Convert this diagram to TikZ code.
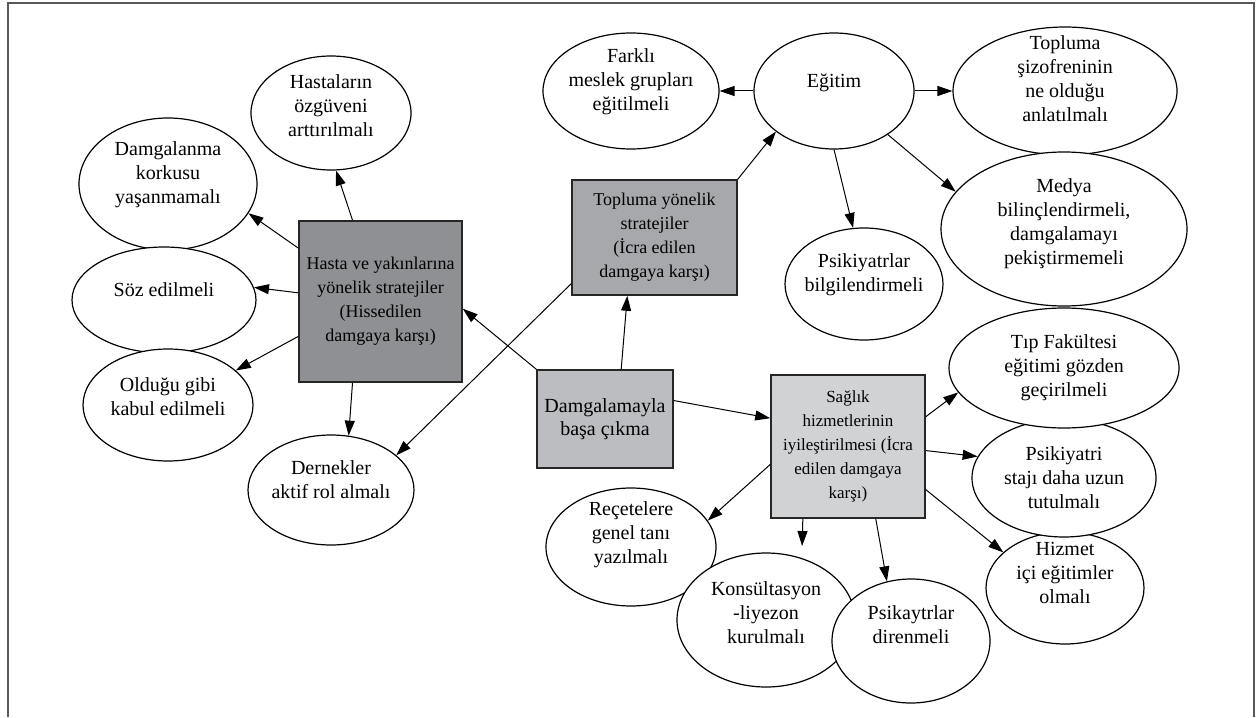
\documentclass[tikz,border=0pt]{standalone}
\usepackage{fontspec}
\setmainfont{Liberation Serif}
\usepackage{tikz}
\usetikzlibrary{shapes.geometric, arrows.meta}

\definecolor{hastagray}{HTML}{8F9094}
\definecolor{toplumgray}{HTML}{A7A8AC}
\definecolor{maingray}{HTML}{BCBDC1}
\definecolor{sagligray}{HTML}{D1D2D4}

\begin{document}
\begin{tikzpicture}[
  x=0.5pt, y=-0.5pt,
  idea/.style={draw, ellipse, fill=white, line width=0.6pt, inner sep=0pt},
  note/.style={font=\fontsize{10}{12}\selectfont, align=center},
  box/.style={draw=black!85, line width=0.8pt, inner sep=0pt, align=center, font=\fontsize{9}{12}\selectfont},
  arr/.style={-{Triangle[length=7.5pt, width=5pt]}, line width=0.5pt},
  frame/.style={draw=black!65, line width=1pt}
]
  \useasboundingbox (0,0) rectangle (1256,717);
  \draw[frame] (8,717) -- (8,3) -- (1254,3) -- (1254,717);

  % Main components
  \node[box, fill=hastagray, minimum width=81.5pt, minimum height=80.5pt] (hasta) at (380.5,301.5)
    {Hasta ve yakınlarına\\yönelik stratejiler\\(Hissedilen\\damgaya karşı)};
  \node[box, fill=toplumgray, minimum width=82.5pt, minimum height=57.5pt] (topluma) at (654.5,237.5)
    {Topluma yönelik\\stratejiler\\(İcra edilen\\damgaya karşı)};
  \node[box, fill=maingray, minimum width=68pt, minimum height=49pt, font=\fontsize{10}{11.5}\selectfont] (damga) at (605,419)
    {Damgalamayla\\başa çıkma};
  \node[box, fill=sagligray, minimum width=77pt, minimum height=71.5pt, font=\fontsize{8.5}{12}\selectfont] (saglik) at (848,446.5)
    {Sağlık\\hizmetlerinin\\iyileştirilmesi (İcra\\edilen damgaya\\karşı)};

  % Patient side
  \node[idea, minimum width=80pt, minimum height=57pt, label={[note, yshift=3.5pt]center:{Hastaların\\özgüveni\\arttırılmalı}}] (hastalarin) at (331,113) {};
  \node[idea, minimum width=89pt, minimum height=66pt, label={[note, yshift=4.5pt]center:{Damgalanma\\korkusu\\yaşanmamalı}}] (damgalanma) at (168,184) {};
  \node[idea, minimum width=92pt, minimum height=53pt, label={[note, yshift=5pt]center:{Söz edilmeli}}] (soz) at (164,300) {};
  \node[idea, minimum width=85pt, minimum height=56pt, label={[note, yshift=4pt]center:{Olduğu gibi\\kabul edilmeli}}] (oldugu) at (168,405) {};
  \node[idea, minimum width=83pt, minimum height=55pt, label={[note, yshift=5pt]center:{Dernekler\\aktif rol almalı}}] (dernekler) at (331,490) {};

  % Education
  \node[idea, minimum width=88pt, minimum height=58pt, label={[note, yshift=4.5pt]center:{Farklı\\meslek grupları\\eğitilmeli}}] (farkli) at (631,91) {};
  \node[idea, minimum width=80pt, minimum height=58pt, label={[note, yshift=4pt]center:{Eğitim}}] (egitim) at (834,91) {};
  \node[idea, minimum width=112pt, minimum height=64pt, label={[note, yshift=6pt]center:{Topluma\\şizofreninin\\ne olduğu\\anlatılmalı}}] (sizofreni) at (1065,91) {};
  \node[idea, minimum width=123pt, minimum height=77pt, label={[note, yshift=2.5pt]center:{Medya\\bilinçlendirmeli,\\damgalamayı\\pekiştirmemeli}}] (medya) at (1064,229) {};
  \node[idea, minimum width=79pt, minimum height=56pt, label={[note, yshift=4.5pt]center:{Psikiyatrlar\\bilgilendirmeli}}] (psikiyatrlar) at (864,284) {};

  % Health services
  \node[idea, minimum width=79pt, minimum height=56pt, label={[note, yshift=7.5pt]center:{Hizmet\\içi eğitimler\\olmalı}}] (hizmet) at (1065,588) {};
  \node[idea, minimum width=92pt, minimum height=59pt, label={[note]center:{Psikiyatri\\stajı daha uzun\\tutulmalı}}] (staj) at (1064,478) {};
  \node[idea, minimum width=115pt, minimum height=60pt, label={[note]center:{Tıp Fakültesi\\eğitimi gözden\\geçirilmeli}}] (tip) at (1064,368) {};
  \node[idea, minimum width=85pt, minimum height=59pt, label={[note, yshift=6pt]center:{Reçetelere\\genel tanı\\yazılmalı}}] (recete) at (631,547) {};
  \node[idea, minimum width=89pt, minimum height=67pt, label={[note, yshift=3.5pt]center:{Konsültasyon\\-liyezon\\kurulmalı}}] (konsultasyon) at (766,620) {};
  \node[idea, minimum width=79pt, minimum height=62pt, label={[note, yshift=8pt]center:{Psikaytrlar\\direnmeli}}] (direnme) at (911,641) {};

  % Arrows
  \draw[arr] (hasta.109) -- (hastalarin.275);
  \draw[arr] (hasta.147) -- (damgalanma.340);
  \draw[arr] (hasta.174) -- (soz.8);
  \draw[arr] (hasta.203) -- (oldugu.27);
  \draw[arr] (hasta.251) -- (dernekler.72);
  \draw[arr] (damga.north west) -- (hasta.355);
  \draw[arr] (damga.72) -- (topluma.245);
  \draw[arr] (damga.15) -- (saglik.160);
  \draw[arr] (topluma.north east) -- (egitim.215);
  \draw[arr] (topluma.209) -- (dernekler.28);
  \draw[arr] (egitim) -- (farkli);
  \draw[arr] (egitim) -- (sizofreni);
  \draw[arr] (egitim.321) -- (medya.161);
  \draw[arr] (egitim.270) -- (psikiyatrlar.101);
  \draw[arr] (saglik.21) -- (tip.193);
  \draw[arr] (saglik.357) -- (staj.166);
  \draw[arr] (saglik.331) -- (hizmet.150);
  \draw[arr] (saglik.291) -- (direnme.112);
  \draw[arr, shorten >=6pt] (saglik.238) -- (konsultasyon.60);
  \draw[arr] (saglik.193) -- (recete.19);

\end{tikzpicture}
\end{document}
